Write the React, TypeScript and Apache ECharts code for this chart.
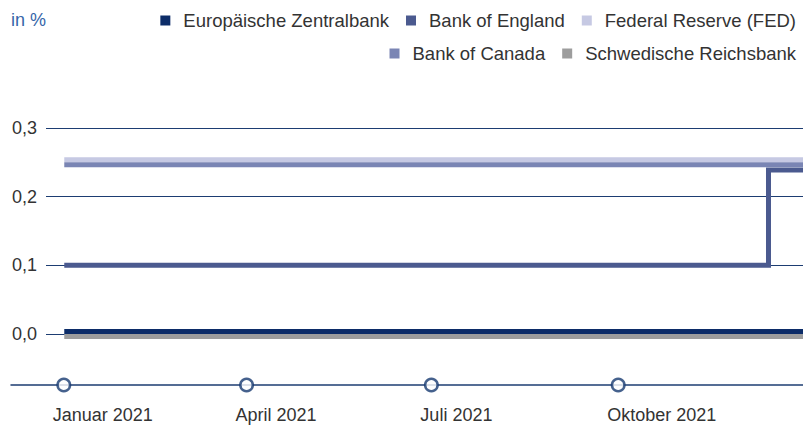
import React, { useEffect, useRef } from 'react';
import * as echarts from 'echarts';

// ---- data ----
const unitLabel = 'in %';
const seriesNames = [
  'Europäische Zentralbank',
  'Bank of England',
  'Federal Reserve (FED)',
  'Bank of Canada',
  'Schwedische Reichsbank',
];
const legendRow1 = ['Europäische Zentralbank', 'Bank of England', 'Federal Reserve (FED)'];
const legendRow2 = ['Bank of Canada', 'Schwedische Reichsbank'];

const ecbDates = ['2021-01-01', '2021-12-31'];
const ecbValues = [0.0036, 0.0036];
const boeDates = ['2021-01-01', '2021-12-14', '2021-12-14', '2021-12-31'];
const boeValues = [0.1, 0.1, 0.239, 0.239];
const fedDates = ['2021-01-01', '2021-12-31'];
const fedValues = [0.2536, 0.2536];
const bocDates = ['2021-01-01', '2021-12-31'];
const bocValues = [0.2464, 0.2464];
const riksDates = ['2021-01-01', '2021-12-31'];
const riksValues = [-0.0036, -0.0036];

const tickDates = ['2021-01-01', '2021-04-01', '2021-07-01', '2021-10-01'];
const tickLabels = ['Januar 2021', 'April 2021', 'Juli 2021', 'Oktober 2021'];
const yTicks = [0, 0.1, 0.2, 0.3];

const colors = ['#0c2c68', '#4b5a8f', '#c6c9e3', '#7a85b4', '#9d9d9d'];

const FONT = 'Liberation Sans, Arial, sans-serif';
const TEXT = '#333333';
const NAVY = '#1d3d72';

const ts = (s: string) => new Date(s + 'T00:00:00').getTime();
const pairs = (d: string[], v: number[]) => d.map((x, i) => [ts(x), v[i]]);

export default function App() {
  const ref = useRef<HTMLDivElement>(null);
  useEffect(() => {
    document.body.style.margin = '0';
    const chart = echarts.init(ref.current!, null, { renderer: 'svg' });
    const tickTs = tickDates.map(ts);
    const data = [
      pairs(ecbDates, ecbValues),
      pairs(boeDates, boeValues),
      pairs(fedDates, fedValues),
      pairs(bocDates, bocValues),
      pairs(riksDates, riksValues),
    ];
    const legendBase = {
      right: 2,
      orient: 'horizontal',
      icon: 'rect',
      itemWidth: 10,
      itemHeight: 10,
      itemGap: 17,
      itemStyle: { borderWidth: 0 },
      formatter: (n: string) => `{t|${n}}`,
      textStyle: {
        color: TEXT,
        fontSize: 18.5,
        fontFamily: FONT,
        rich: { t: { padding: [0, 0, 0, 8], color: TEXT, fontSize: 18.5, fontFamily: FONT } },
      },
    };
    const option: any = {
      animation: false,
      textStyle: { fontFamily: FONT },
      title: {
        text: unitLabel,
        left: 11,
        top: 11,
        padding: 0,
        textStyle: { color: '#3565a9', fontSize: 18, fontWeight: 'normal', fontFamily: FONT },
      },
      legend: [
        { ...legendBase, top: 6, data: legendRow1 },
        { ...legendBase, top: 39, data: legendRow2 },
      ],
      grid: [
        { left: 46, right: 0, top: 128, height: 206 },
        { left: 11, right: 0, top: 375, height: 10 },
      ],
      xAxis: [
        {
          type: 'value',
          gridIndex: 0,
          min: ts('2020-12-23'),
          max: ts('2021-12-31'),
          show: false,
          splitLine: { show: false },
        },
        {
          type: 'value',
          gridIndex: 1,
          min: ts('2020-12-06'),
          max: ts('2021-12-31'),
          axisLine: { show: true, lineStyle: { color: NAVY, width: 1.5 } },
          axisTick: { show: false },
          splitLine: { show: false },
          axisLabel: {
            customValues: tickTs,
            margin: 21,
            align: 'center',
            color: TEXT,
            fontSize: 18,
            fontFamily: FONT,
            formatter: (v: number) => {
              const i = tickTs.findIndex((t) => Math.abs(t - v) < 86400000);
              return i >= 0 ? `{a|${tickLabels[i]}}` : '';
            },
            rich: { a: { width: 22, align: 'left', color: TEXT, fontSize: 18, fontFamily: FONT } },
          },
        },
      ],
      yAxis: [
        {
          type: 'value',
          gridIndex: 0,
          min: yTicks[0],
          max: yTicks[yTicks.length - 1],
          interval: 0.1,
          axisLine: { show: false },
          axisTick: { show: false },
          splitLine: { show: true, lineStyle: { color: NAVY, width: 1 } },
          axisLabel: {
            margin: 9,
            color: TEXT,
            fontSize: 18,
            fontFamily: FONT,
            formatter: (v: number) => v.toFixed(1).replace('.', ','),
          },
        },
        { type: 'value', gridIndex: 1, min: 0, max: 1, show: false },
      ],
      series: [
        ...seriesNames.map((name, i) => ({
          name,
          type: 'line',
          xAxisIndex: 0,
          yAxisIndex: 0,
          data: data[i],
          showSymbol: false,
          symbol: 'none',
          clip: false,
          color: colors[i],
          itemStyle: { color: colors[i] },
          lineStyle: { color: colors[i], width: 5, join: 'miter', cap: 'butt' },
          emphasis: { disabled: true },
        })),
        {
          type: 'scatter',
          xAxisIndex: 1,
          yAxisIndex: 1,
          clip: false,
          symbol: 'circle',
          symbolSize: 12.5,
          itemStyle: { color: '#ffffff', borderColor: '#163a70', borderWidth: 2.5 },
          data: tickTs.map((t) => [t, 0]),
          z: 5,
        },
      ],
    };
    chart.setOption(option);
    return () => chart.dispose();
  }, []);
  return <div ref={ref} style={{ width: 803, height: 430 }} />;
}
